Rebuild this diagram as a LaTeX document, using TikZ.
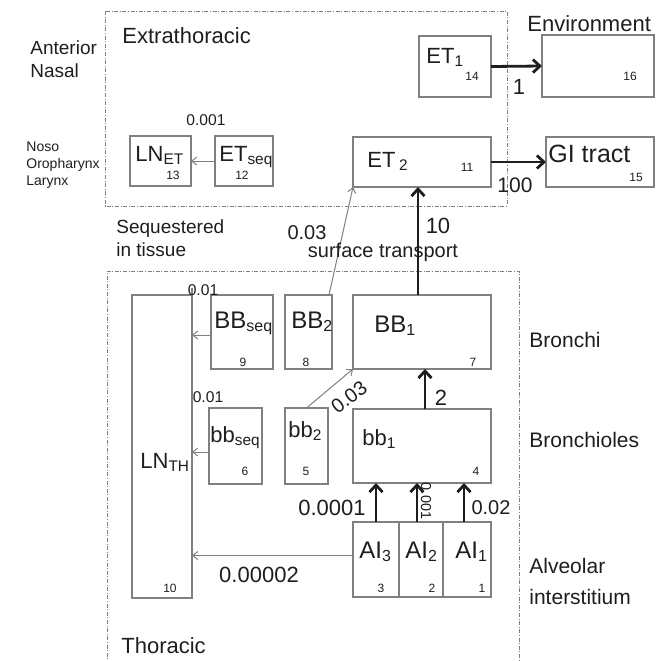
\documentclass[tikz,border=0pt]{standalone}
\usepackage{amsmath}
\usepackage{fontspec}
\setmainfont{Liberation Sans}
\usetikzlibrary{arrows.meta}
\definecolor{boxgray}{HTML}{808080}
\definecolor{ink}{HTML}{1E1E1E}

\begin{document}
\begin{tikzpicture}[x=0.5pt, y=-0.5pt,
  comp/.style={draw=boxgray, line width=0.6pt, inner sep=0pt, outer sep=0pt},
  region/.style={draw=boxgray, line width=0.45pt, dash pattern=on 2pt off 0.8pt on 0.5pt off 0.8pt},
  thk/.style={-{Straight Barb[length=3.5pt,width=6.5pt]}, line width=1.4pt, ink},
  thn/.style={-{Straight Barb[length=2.5pt,width=4pt]}, line width=0.5pt, boxgray},
  bigt/.style={text=ink, inner sep=0pt, font=\fontsize{11}{13}\selectfont},
  midt/.style={text=ink, inner sep=0pt, font=\fontsize{10}{12}\selectfont},
  sidet/.style={text=ink, inner sep=0pt, align=left, font=\fontsize{9.5}{11.3}\selectfont},
  smlt/.style={text=ink, inner sep=0pt, font=\fontsize{7.8}{9}\selectfont},
  numt/.style={text=ink, inner sep=0pt, font=\fontsize{6}{7}\selectfont}]
  \useasboundingbox (0,0) rectangle (665,660);

  % Regions
  \draw[region] (105,11) rectangle (507,206);
  \draw[region] (107,665) |- (519,271) -- (519,665);

  % Side labels
  \node[sidet, anchor=west] (antnasal) at (30,59) {Anterior\\Nasal};
  \node[text=ink, inner sep=0pt, align=left, anchor=west,
        font=\fontsize{7}{8.5}\selectfont] (noso) at (26,165) {Noso\\Oropharynx\\Larynx};
  \node[bigt, anchor=west] (extra) at (122,36) {Extrathoracic};
  \node[sidet, anchor=west] (seqlab) at (116,238) {Sequestered\\in tissue};
  \node[bigt, anchor=west] (thor) at (121,646) {Thoracic};
  \node[bigt, anchor=west] (envlab) at (527,24) {Environment};
  \node[midt, anchor=west, font=\fontsize{10.5}{12}\selectfont] (bronchi) at (529,340) {Bronchi};
  \node[midt, anchor=west, font=\fontsize{10.5}{12}\selectfont] (bronchioles) at (529,440) {Bronchioles};
  \node[midt, anchor=west, align=left, font=\fontsize{10.5}{15.5}\selectfont] (alv) at (529,581) {Alveolar\\interstitium};

  % Extrathoracic compartments
  \node[comp, minimum width=30.5pt, minimum height=25pt] (lnET)  at (160.5,161) {};
  \node[comp, minimum width=29pt,   minimum height=25pt] (etSeq) at (244,161) {};
  \node[comp, minimum width=36pt,   minimum height=30.5pt] (et1) at (455,66.5) {};
  \node[comp, minimum width=69pt,   minimum height=25pt] (et2)  at (422,162) {};
  \node[comp, minimum width=56pt,   minimum height=31pt] (env)  at (598,66) {};
  \node[comp, minimum width=54pt,   minimum height=25pt] (gi)   at (600,162) {};

  \node[bigt, anchor=base west] at (135,161) {LN\textsubscript{ET}};
  \node[bigt, anchor=base west] at (219,161) {ET\textsubscript{seq}};
  \node[bigt, anchor=base west] at (426,63) {ET\textsubscript{1}};
  \node[bigt, anchor=base west] at (367,167) {ET\,\textsubscript{2}};
  \node[bigt, anchor=base west, font=\fontsize{12.5}{14}\selectfont] at (548,162) {GI tract};
  \node[numt] at (173,175) {13};
  \node[numt] at (242,175) {12};
  \node[numt] at (472,76) {14};
  \node[numt] at (630,76) {16};
  \node[numt] at (467,167) {11};
  \node[numt] at (636,177) {15};

  % Thoracic compartments
  \node[comp, minimum width=30pt,   minimum height=151.5pt] (lnTH) at (162,446.5) {};
  \node[comp, minimum width=31pt,   minimum height=37pt] (BBseq) at (242,332) {};
  \node[comp, minimum width=23.5pt, minimum height=37pt] (BBtwo) at (308.5,332) {};
  \node[comp, minimum width=69pt,   minimum height=37pt] (BBone) at (422,332) {};
  \node[comp, minimum width=26.5pt, minimum height=38pt] (bbseq) at (235.5,446) {};
  \node[comp, minimum width=21.5pt, minimum height=38pt] (bbtwo) at (306.5,446) {};
  \node[comp, minimum width=69pt,   minimum height=37pt] (bbone) at (422,446) {};
  \node[comp, minimum width=23pt,   minimum height=37.5pt] (ai3) at (376,559.5) {};
  \node[comp, minimum width=22pt,   minimum height=37.5pt] (ai2) at (421,559.5) {};
  \node[comp, minimum width=24pt,   minimum height=37.5pt] (ai1) at (467,559.5) {};

  \node[bigt, anchor=base west] at (140,468) {LN\textsubscript{TH}};
  \node[bigt, anchor=base west, font=\fontsize{12}{14}\selectfont] at (214,328) {BB\textsubscript{seq}};
  \node[bigt, anchor=base west, font=\fontsize{12}{14}\selectfont] at (291,328) {BB\textsubscript{2}};
  \node[bigt, anchor=base west, font=\fontsize{12}{14}\selectfont] at (374,332) {BB\textsubscript{1}};
  \node[bigt, anchor=base west] at (210,442) {bb\textsubscript{seq}};
  \node[bigt, anchor=base west] at (288,437) {bb\textsubscript{2}};
  \node[bigt, anchor=base west] at (362,445) {bb\textsubscript{1}};
  \node[bigt, anchor=base west, font=\fontsize{12}{14}\selectfont] at (359,558) {AI\textsubscript{3}};
  \node[bigt, anchor=base west, font=\fontsize{12}{14}\selectfont] at (405,558) {AI\textsubscript{2}};
  \node[bigt, anchor=base west, font=\fontsize{12}{14}\selectfont] at (455,558) {AI\textsubscript{1}};
  \node[numt] at (170,588) {10};
  \node[numt] at (243,362) {9};
  \node[numt] at (306,362) {8};
  \node[numt] at (473,362) {7};
  \node[numt] at (245,471) {6};
  \node[numt] at (306,471) {5};
  \node[numt] at (476,471) {4};
  \node[numt] at (381,588) {3};
  \node[numt] at (432,588) {2};
  \node[numt] at (482,588) {1};

  % Clearance paths
  \draw[thn] (etSeq.west) -- (lnET.east);
  \draw[thk] (et1.east) -- (env.west);
  \draw[thk] (et2.east) -- (gi.west);
  \draw[thk] ([xshift=-2pt]BBone.north) -- ([xshift=-2pt]et2.south);
  \draw[thn] ([xshift=-1.5pt]BBtwo.north east) -- (et2.south west);
  \draw[thk] ([xshift=1.5pt]bbone.north) -- ([xshift=1.5pt]BBone.south);
  \draw[thn] (bbtwo.north) -- (BBone.south west);
  \draw[thk] (ai3.north) -- (ai3.north |- bbone.south);
  \draw[thk] ([xshift=-2pt]ai2.north) -- ([xshift=-2pt]ai2.north |- bbone.south);
  \draw[thk] ([xshift=-1.5pt]ai1.north) -- ([xshift=-1.5pt]ai1.north |- bbone.south);
  \draw[thn] ([yshift=-1.5pt]BBseq.west) -- ([yshift=-1.5pt]BBseq.west -| lnTH.east);
  \draw[thn] ([yshift=-3pt]bbseq.west) -- ([yshift=-3pt]bbseq.west -| lnTH.east);
  \draw[thn] ([yshift=2pt]ai3.west) -- ([yshift=2pt]ai3.west -| lnTH.east);
  \draw[boxgray, line width=0.6pt] (lnTH.north east) -- ++(0,-7);

  % Rates
  \node[smlt] at (206,120) {0.001};
  \node[bigt] at (519,87) {1};
  \node[midt, font=\fontsize{10.5}{12}\selectfont] at (515,185) {100};
  \node[bigt] at (438,226) {10};
  \node[midt] at (383,252) {surface transport};
  \node[midt] at (307,233) {0.03};
  \node[smlt] at (203,290) {0.01};
  \node[smlt] at (208,397) {0.01};
  \node[midt, rotate=37] at (349,397) {0.03};
  \node[bigt] at (441,398) {2};
  \node[bigt] at (332,508) {0.0001};
  \node[smlt, rotate=-90, font=\fontsize{7.2}{8}\selectfont] at (426,501) {0.001};
  \node[midt] at (491,508) {0.02};
  \node[bigt] at (259,575) {0.00002};
\end{tikzpicture}
\end{document}
